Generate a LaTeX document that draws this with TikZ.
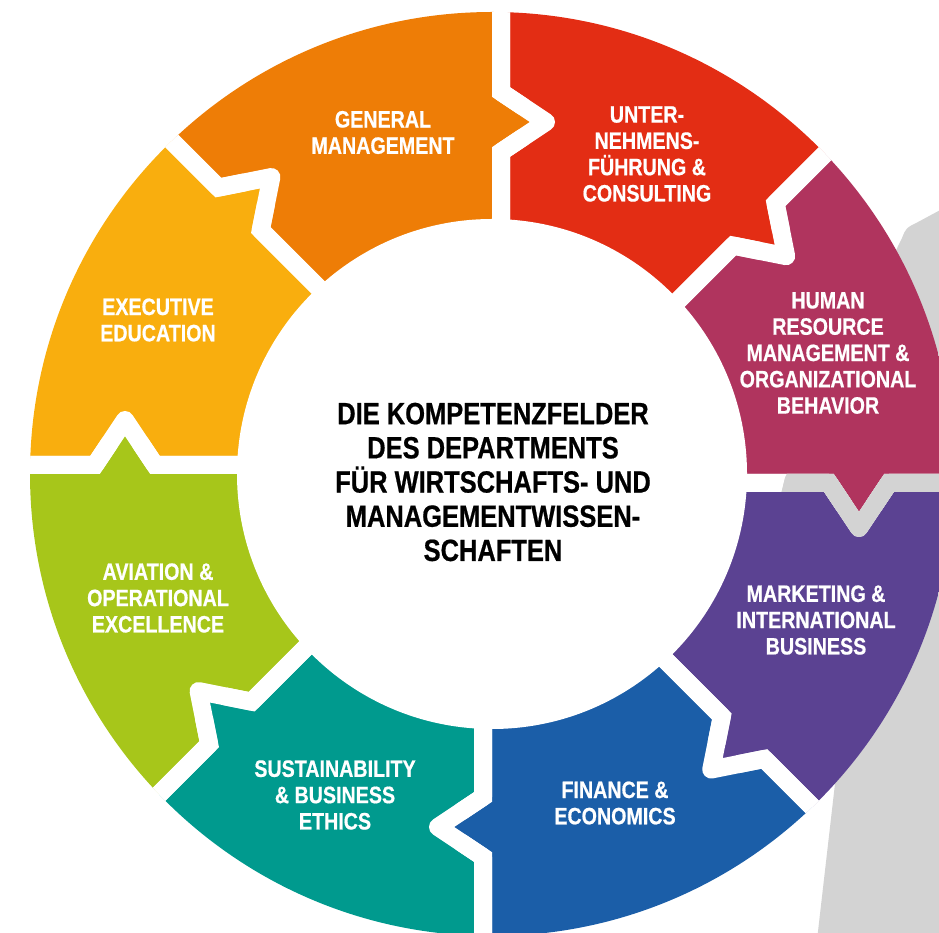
\documentclass[tikz,border=0pt]{standalone}
\usepackage{fontspec}
\newfontfamily\condfont{Liberation Sans}[FakeStretch=0.83,FakeBold=0.6]
\usetikzlibrary{calc}
\definecolor{cOrange}{RGB}{238,125,6}
\definecolor{cRed}{RGB}{227,45,20}
\definecolor{cMagenta}{RGB}{176,52,94}
\definecolor{cPurple}{RGB}{91,66,146}
\definecolor{cBlue}{RGB}{27,94,168}
\definecolor{cTeal}{RGB}{0,154,142}
\definecolor{cGreen}{RGB}{167,198,26}
\definecolor{cYellow}{RGB}{249,174,14}
\definecolor{cGray}{RGB}{211,211,211}
\begin{document}
\begin{tikzpicture}[x=1pt,y=1pt,
  seglabel/.style={text=white, font=\condfont\bfseries\fontsize{23.7}{26.3}\selectfont, align=center, inner sep=0pt},
  centerlabel/.style={text=black, font=\condfont\bfseries\fontsize{30.7}{34.2}\selectfont, align=center, inner sep=0pt},
  gapline/.style={line width=18pt, line cap=butt},
]
\useasboundingbox (0,0) rectangle (939,932);
\coordinate (C) at (492,458);
% gray background shape
\fill[cGray] (944,724) -- (918,710) .. controls (906,704) .. (902,694) -- (785,454) -- (770,392) -- (836,157) -- (817,-8) -- (944,-8) -- cycle;

% boundary points
\foreach \k/\rad in {0/352,1/362,2/367,3/364,4/353,5/361,6/367,7/366} {
  \pgfmathsetmacro\th{90-45*\k}
  \pgfmathsetmacro\thc{\th-90}
  \pgfmathsetmacro\thm{\th-22.5}
  \pgfmathsetmacro\ra{\rad-30}
  \pgfmathsetmacro\rb{\rad+30}
  \coordinate (i\k) at ($(C)+(\th:200pt)+(\thc:9pt)$);
  \coordinate (a\k) at ($(C)+(\th:\ra pt)+(\thc:9pt)$);
  \coordinate (t\k) at ($(C)+(\th:\rad pt)+(\thc:54pt)$);
  \coordinate (b\k) at ($(C)+(\th:\rb pt)+(\thc:9pt)$);
  \coordinate (o\k) at ($(C)+(\th:522pt)+(\thc:9pt)$);
  \coordinate (m\k) at ($(C)+(\thm:545pt)$);
  \coordinate (p\k) at ($(a\k)!0.5!(t\k)$);
  \coordinate (q\k) at ($(t\k)!0.5!(b\k)$);
}

\begin{scope}
  \clip (C) circle (462pt);
  \foreach \j/\col in {0/cRed,1/cMagenta,2/cPurple,3/cBlue,4/cTeal,5/cGreen,6/cYellow,7/cOrange} {
    \pgfmathtruncatemacro\n{mod(\j+1,8)}
    \fill[\col] (o\j) -- (b\j) -- (t\j) -- (a\j) -- (i\j) -- (i\n) -- (a\n) -- (t\n) -- (b\n) -- (o\n) -- (m\j) -- cycle;
  }
  \foreach \k in {0,...,7} {
    \draw[gapline, white, line join=round] (i\k) -- (a\k) -- (t\k) -- (b\k) -- (o\k);
    \draw[gapline, white, line join=miter] (i\k) -- (a\k) -- (p\k);
    \draw[gapline, white, line join=miter] (q\k) -- (b\k) -- (o\k);
  }
  \begin{scope}
    \clip (944,724) -- (918,710) .. controls (906,704) .. (902,694) -- (785,454) -- (770,392) -- (836,157) -- (817,-8) -- (944,-8) -- cycle;
    \foreach \k in {0,...,7} {
      \draw[gapline, cGray, line join=round] (i\k) -- (a\k) -- (t\k) -- (b\k) -- (o\k);
      \draw[gapline, cGray, line join=miter] (i\k) -- (a\k) -- (p\k);
      \draw[gapline, cGray, line join=miter] (q\k) -- (b\k) -- (o\k);
    }
  \end{scope}
\end{scope}
\fill[white] (C) circle (255pt);

% labels
\node[seglabel] (lGM) at (383,799.5) {GENERAL\\MANAGEMENT};
\node[seglabel] (lUF) at (647,778) {UNTER-\\NEHMENS-\\FÜHRUNG \&\\CONSULTING};
\node[seglabel] (lHR) at (828,579) {HUMAN\\RESOURCE\\MANAGEMENT \&\\ORGANIZATIONAL\\BEHAVIOR};
\node[seglabel] (lMI) at (816,312) {MARKETING \&\\INTERNATIONAL\\BUSINESS};
\node[seglabel] (lFE) at (615,129) {FINANCE \&\\ECONOMICS};
\node[seglabel] (lSB) at (335,137) {SUSTAINABILITY\\\& BUSINESS\\ETHICS};
\node[seglabel] (lAV) at (158,334) {AVIATION \&\\OPERATIONAL\\EXCELLENCE};
\node[seglabel] (lEE) at (158,612) {EXECUTIVE\\EDUCATION};
\node[centerlabel] (lC) at (493,450) {DIE KOMPETENZFELDER\\DES DEPARTMENTS\\FÜR WIRTSCHAFTS- UND\\MANAGEMENTWISSEN-\\SCHAFTEN};
\end{tikzpicture}
\end{document}
